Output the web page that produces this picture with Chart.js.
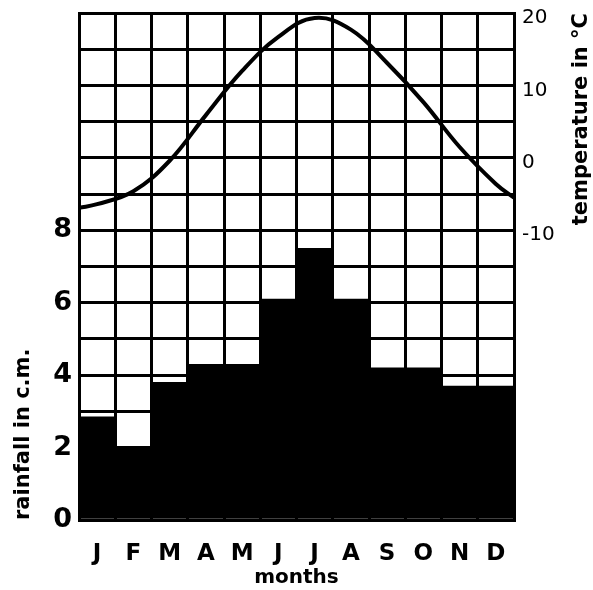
<!DOCTYPE html>
<html>
<head>
<meta charset="utf-8">
<script src="https://cdn.jsdelivr.net/npm/chart.js@4"></script>
<style>
  html, body { margin: 0; padding: 0; background: #fff; }
  #wrap { width: 593px; height: 590px; }
</style>
</head>
<body>
<div id="wrap"><canvas id="climateChart" width="593" height="590"></canvas></div>
<script>
// months along the bottom
var months = ['J', 'F', 'M', 'A', 'M', 'J', 'J', 'A', 'S', 'O', 'N', 'D'];

// rainfall in c.m. for each month (bars)
var rainfall = [2.85, 2.0, 3.8, 4.3, 4.3, 6.1, 7.5, 6.1, 4.2, 4.2, 3.7, 3.7];

// temperature in degC at the middle of each month (curve)
var temperature = [-6.4, -4.6, -0.4, 5.9, 12.0, 16.7, 19.3, 17.7, 13.1, 7.7, 1.5, -3.6];
// curve value at the start of January and the end of December
var tempStart = -6.9;
var tempEnd = -5.5;

// labelled ticks on both y axes
var rainTicks = [0, 2, 4, 6, 8];
var tempTicks = [-10, 0, 10, 20];

var heavy = '"DejaVu Sans", sans-serif';

// right axis title reads bottom to top, so draw it here
var rightTitle = {
    id: 'rightTitle',
    afterDraw: function(chart) {
        var ctx = chart.ctx;
        var area = chart.chartArea;
        ctx.save();
        ctx.translate(area.right + 68, area.top);
        ctx.rotate(-Math.PI / 2);
        ctx.font = 'bold 21px ' + heavy;
        ctx.fillStyle = '#000';
        ctx.textAlign = 'right';
        ctx.textBaseline = 'middle';
        ctx.fillText('temperature in °C', 0, 0);
        ctx.restore();
    }
};

// y axes: fixed width, no extra room for the end labels
function fitY(scale) {
    scale.width = 79;
    scale.paddingTop = 0;
    scale.paddingBottom = 0;
}

document.addEventListener('DOMContentLoaded', function() {
    var tempPoints = [{ x: 0, y: tempStart }];
    temperature.forEach(function(t, i) {
        tempPoints.push({ x: i + 0.5, y: t });
    });
    tempPoints.push({ x: months.length, y: tempEnd });

    var ctx = document.getElementById('climateChart').getContext('2d');
    new Chart(ctx, {
        type: 'bar',
        data: {
            labels: months,
            datasets: [
                {
                    type: 'line',
                    label: 'temperature',
                    data: tempPoints,
                    xAxisID: 'xt',
                    yAxisID: 'yt',
                    borderColor: '#000',
                    borderWidth: 4,
                    pointRadius: 0,
                    tension: 0.4,
                    fill: false
                },
                {
                    label: 'rainfall',
                    data: rainfall,
                    xAxisID: 'x',
                    yAxisID: 'y',
                    backgroundColor: '#000',
                    borderWidth: 0,
                    grouped: false,
                    barPercentage: 1,
                    categoryPercentage: 1
                }
            ]
        },
        options: {
            responsive: false,
            animation: false,
            layout: { padding: { top: 13 } },
            plugins: {
                legend: { display: false },
                tooltip: { enabled: false }
            },
            scales: {
                x: {
                    type: 'category',
                    offset: true,
                    grid: { offset: true, color: '#000', lineWidth: 3, drawTicks: false },
                    border: { color: '#000', width: 3 },
                    ticks: {
                        color: '#000',
                        padding: 20,
                        font: { family: heavy, size: 23, weight: 'bold' }
                    },
                    title: {
                        display: true,
                        text: 'months',
                        color: '#000',
                        padding: { top: 0, bottom: 0 },
                        font: { family: heavy, size: 20, weight: 'bold' }
                    },
                    afterFit: function(scale) { scale.height = 70; }
                },
                xt: {
                    type: 'linear',
                    display: false,
                    offset: false,
                    min: 0,
                    max: months.length
                },
                y: {
                    position: 'left',
                    min: 0,
                    max: 14,
                    grid: { color: '#000', lineWidth: 3, drawTicks: false },
                    border: { color: '#000', width: 3 },
                    ticks: {
                        stepSize: 1,
                        color: '#000',
                        padding: 7,
                        font: { family: heavy, size: 27, weight: 'bold' },
                        callback: function(v) { return rainTicks.indexOf(v) >= 0 ? v : ''; }
                    },
                    title: {
                        display: true,
                        text: 'rainfall in c.m.',
                        align: 'start',
                        color: '#000',
                        padding: { top: 11, bottom: 0 },
                        font: { family: heavy, size: 21, weight: 'bold' }
                    },
                    afterFit: fitY
                },
                yt: {
                    position: 'right',
                    min: -50,
                    max: 20,
                    grid: { drawOnChartArea: false, drawTicks: false },
                    border: { color: '#000', width: 3 },
                    ticks: {
                        stepSize: 5,
                        color: '#000',
                        padding: 8,
                        labelOffset: 5,
                        font: { family: heavy, size: 20 },
                        callback: function(v) { return tempTicks.indexOf(v) >= 0 ? v : ''; }
                    },
                    afterFit: fitY
                }
            }
        },
        plugins: [rightTitle]
    });
});
</script>
</body>
</html>
